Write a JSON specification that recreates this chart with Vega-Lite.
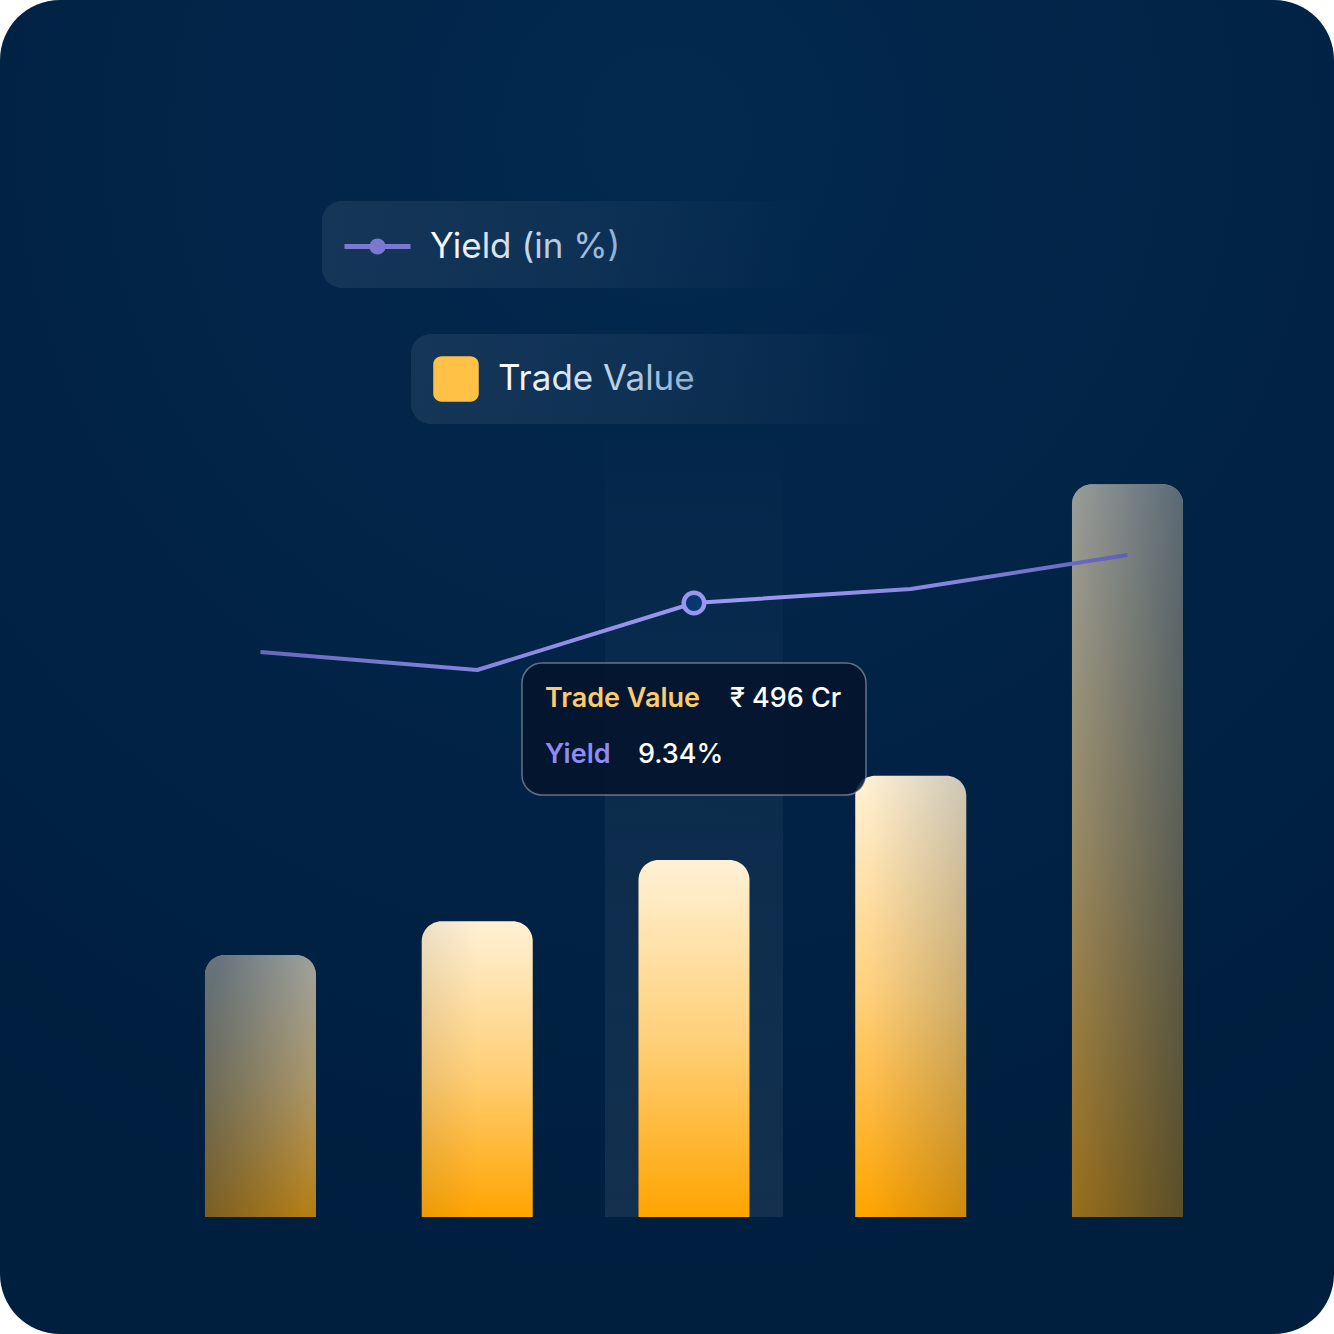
{
  "$schema": "https://vega.github.io/schema/vega-lite/v6.json",
  "width": 1334,
  "height": 1334,
  "padding": 0,
  "autosize": {"type": "none"},
  "background": "#ffffff",
  "view": {
    "stroke": null,
    "cornerRadius": 60,
    "fill": {
      "gradient": "radial",
      "x1": 0.5, "y1": 0.1, "r1": 0,
      "x2": 0.5, "y2": 0.1, "r2": 0.9,
      "stops": [
        {"offset": 0, "color": "#03294f"},
        {"offset": 0.6, "color": "#012244"},
        {"offset": 1, "color": "#001e3e"}
      ]
    }
  },
  "data": {
    "values": [
      {"period": "P1", "trade": 364, "yield": 8.85, "active": false},
      {"period": "P2", "trade": 411, "yield": 8.67, "active": false},
      {"period": "P3", "trade": 496, "yield": 9.34, "active": true},
      {"period": "P4", "trade": 613, "yield": 9.48, "active": false},
      {"period": "P5", "trade": 1018, "yield": 9.82, "active": false}
    ]
  },
  "transform": [
    {"calculate": "'₹ ' + datum.trade + ' Cr'", "as": "tradeLabel"},
    {"calculate": "format(datum.yield, '.2f') + '%'", "as": "yieldLabel"}
  ],
  "encoding": {
    "x": {
      "field": "period",
      "type": "nominal",
      "axis": null,
      "scale": {"type": "band", "paddingInner": 0.4879, "paddingOuter": 0.8212, "align": 0.5758}
    }
  },
  "layer": [
    {
      "transform": [{"filter": "datum.active"}],
      "mark": {
        "type": "bar",
        "width": 178,
        "fill": {
          "gradient": "linear", "x1": 0, "y1": 0, "x2": 0, "y2": 1,
          "stops": [
            {"offset": 0, "color": "rgba(255,255,255,0)"},
            {"offset": 0.45, "color": "rgba(255,255,255,0.045)"},
            {"offset": 1, "color": "rgba(255,255,255,0.075)"}
          ]
        }
      },
      "encoding": {
        "y": {"datum": 1107, "type": "quantitative", "axis": null, "scale": {"domain": [-162.56, 1690.85], "nice": false, "zero": false}},
        "y2": {"datum": 0}
      }
    },
    {
      "mark": {
        "type": "bar",
        "cornerRadiusTopLeft": 20,
        "cornerRadiusTopRight": 20,
        "fill": {
          "gradient": "linear", "x1": 0, "y1": 0, "x2": 0, "y2": 1,
          "stops": [
            {"offset": 0, "color": "#fff1d6"},
            {"offset": 0.5, "color": "#ffd07a"},
            {"offset": 1, "color": "#ffa400"}
          ]
        }
      },
      "encoding": {
        "y": {"field": "trade", "type": "quantitative", "axis": null, "scale": {"domain": [-162.56, 1690.85], "nice": false, "zero": false}},
        "y2": {"datum": 0}
      }
    },
    {
      "mark": {"type": "bar", "cornerRadiusTopLeft": 20, "cornerRadiusTopRight": 20},
      "encoding": {
        "y": {"field": "trade", "type": "quantitative", "axis": null, "scale": {"domain": [-162.56, 1690.85], "nice": false, "zero": false}},
        "y2": {"datum": 0},
        "fill": {
          "condition": [
            {"test": "datum.period == 'P1'", "value": {
              "gradient": "linear", "x1": 0, "y1": 0.3, "x2": 1, "y2": 0.7,
              "stops": [{"offset": 0, "color": "rgba(0,32,64,0.6)"}, {"offset": 1, "color": "rgba(0,32,64,0.3)"}]}},
            {"test": "datum.period == 'P2'", "value": {
              "gradient": "linear", "x1": 0, "y1": 0, "x2": 1, "y2": 0,
              "stops": [{"offset": 0, "color": "rgba(0,32,64,0.08)"}, {"offset": 0.5, "color": "rgba(0,32,64,0)"}]}},
            {"test": "datum.period == 'P4'", "value": {
              "gradient": "linear", "x1": 0, "y1": 0, "x2": 1, "y2": 0,
              "stops": [{"offset": 0.1, "color": "rgba(0,32,64,0)"}, {"offset": 1, "color": "rgba(0,32,64,0.2)"}]}},
            {"test": "datum.period == 'P5'", "value": {
              "gradient": "linear", "x1": 0, "y1": 0, "x2": 1, "y2": 0,
              "stops": [{"offset": 0, "color": "rgba(0,32,64,0.4)"}, {"offset": 1, "color": "rgba(0,32,64,0.65)"}]}}
          ],
          "value": "transparent"
        }
      }
    },
    {
      "mark": {
        "type": "line",
        "strokeWidth": 4,
        "strokeJoin": "round",
        "stroke": {
          "gradient": "linear", "x1": 0, "y1": 0, "x2": 1, "y2": 0,
          "stops": [
            {"offset": 0, "color": "#6469bd"},
            {"offset": 0.35, "color": "#928ee8"},
            {"offset": 0.55, "color": "#9e99f3"},
            {"offset": 0.8, "color": "#8783dc"},
            {"offset": 1, "color": "#5a61b4"}
          ]
        }
      },
      "encoding": {
        "y": {"field": "yield", "type": "quantitative", "axis": null, "scale": {"domain": [2.03, 15.37], "nice": false, "zero": false}}
      }
    },
    {
      "transform": [{"filter": "datum.active"}],
      "mark": {"type": "point", "filled": true, "fill": "#073670", "stroke": "#9a96f0", "strokeWidth": 4.5, "size": 420, "opacity": 1},
      "encoding": {
        "y": {"field": "yield", "type": "quantitative", "axis": null, "scale": {"domain": [2.03, 15.37], "nice": false, "zero": false}}
      }
    },
    {
      "transform": [{"filter": "datum.active"}],
      "mark": {"type": "bar", "width": 344, "cornerRadius": 20, "fill": "rgba(4,20,44,0.88)", "stroke": "rgba(255,255,255,0.38)", "strokeWidth": 1.5},
      "encoding": {
        "y": {"datum": 769.7, "type": "quantitative", "axis": null, "scale": {"domain": [-162.56, 1690.85], "nice": false, "zero": false}},
        "y2": {"datum": 586.3}
      }
    },
    {
      "transform": [{"filter": "datum.active"}],
      "mark": {"type": "text", "align": "left", "baseline": "middle", "dx": -149, "font": "Inter", "fontSize": 27, "fontWeight": 600, "fill": "#fdcb6e"},
      "encoding": {
        "y": {"datum": 719.7, "type": "quantitative", "axis": null, "scale": {"domain": [-162.56, 1690.85], "nice": false, "zero": false}},
        "text": {"value": "Trade Value"}
      }
    },
    {
      "transform": [{"filter": "datum.active"}],
      "mark": {"type": "text", "align": "left", "baseline": "middle", "dx": 36, "font": "Inter", "fontSize": 27, "fontWeight": 500, "fill": "#ffffff"},
      "encoding": {
        "y": {"datum": 719.7, "type": "quantitative", "axis": null, "scale": {"domain": [-162.56, 1690.85], "nice": false, "zero": false}},
        "text": {"field": "tradeLabel"}
      }
    },
    {
      "transform": [{"filter": "datum.active"}],
      "mark": {"type": "text", "align": "left", "baseline": "middle", "dx": -149, "font": "Inter", "fontSize": 27, "fontWeight": 600, "fill": "#8f8cf0"},
      "encoding": {
        "y": {"datum": 641.9, "type": "quantitative", "axis": null, "scale": {"domain": [-162.56, 1690.85], "nice": false, "zero": false}},
        "text": {"value": "Yield"}
      }
    },
    {
      "transform": [{"filter": "datum.active"}],
      "mark": {"type": "text", "align": "left", "baseline": "middle", "dx": -56, "font": "Inter", "fontSize": 27, "fontWeight": 500, "fill": "#ffffff"},
      "encoding": {
        "y": {"datum": 641.9, "type": "quantitative", "axis": null, "scale": {"domain": [-162.56, 1690.85], "nice": false, "zero": false}},
        "text": {"field": "yieldLabel"}
      }
    },
    {
      "transform": [{"filter": "false"}],
      "mark": {"type": "square"},
      "encoding": {
        "y": {"field": "yield", "type": "quantitative", "axis": null, "scale": {"domain": [2.03, 15.37], "nice": false, "zero": false}},
        "fill": {
          "datum": "Yield (in %)",
          "type": "nominal",
          "scale": {"range": ["#7b78d4"]},
          "legend": {
            "orient": "none",
            "legendX": 322,
            "legendY": 201,
            "title": "\u00a0",
            "titleOrient": "right",
            "titlePadding": 170,
            "titleFontSize": 10,
            "padding": 23,
            "cornerRadius": 20,
            "symbolType": "M-1.65,0H1.65M0.28,0A0.28,0.28 0 1 1 -0.28,0A0.28,0.28 0 1 1 0.28,0Z",
            "symbolSize": 1600,
            "symbolStrokeWidth": 5,
            "symbolOffset": 10,
            "symbolOpacity": 1,
            "labelOffset": 30,
            "labelFont": "Inter",
            "labelFontSize": 35,
            "labelLimit": 500,
            "labelColor": "#e8eef5",
            "encode": {
              "legend": {"update": {
                "fill": {"value": {"gradient": "linear", "x1": 0, "y1": 0, "x2": 1, "y2": 0,
                  "stops": [{"offset": 0, "color": "rgba(255,255,255,0.075)"}, {"offset": 0.55, "color": "rgba(255,255,255,0.045)"}, {"offset": 1, "color": "rgba(255,255,255,0)"}]}}
              }},
              "symbols": {"update": {"fill": {"value": "#7b78d4"}, "stroke": {"value": "#7b78d4"}, "opacity": {"value": 1}, "strokeWidth": {"value": 5}}},
              "labels": {"update": {"fill": {"value": {"gradient": "linear", "x1": 0, "y1": 0, "x2": 1, "y2": 0,
                "stops": [{"offset": 0, "color": "#ffffff"}, {"offset": 1, "color": "#8fb0d2"}]}}}}
            }
          }
        }
      }
    },
    {
      "transform": [{"filter": "false"}],
      "mark": {"type": "square"},
      "encoding": {
        "y": {"field": "trade", "type": "quantitative", "axis": null, "scale": {"domain": [-162.56, 1690.85], "nice": false, "zero": false}},
        "fill": {
          "datum": "Trade Value",
          "type": "nominal",
          "scale": {"range": ["#ffc247"]},
          "legend": {
            "orient": "none",
            "legendX": 411,
            "legendY": 334,
            "title": "\u00a0",
            "titleOrient": "right",
            "titlePadding": 180,
            "titleFontSize": 10,
            "padding": 22,
            "cornerRadius": 20,
            "symbolType": "M-1,-0.64A0.36,0.36 0 0 1 -0.64,-1H0.64A0.36,0.36 0 0 1 1,-0.64V0.64A0.36,0.36 0 0 1 0.64,1H-0.64A0.36,0.36 0 0 1 -1,0.64Z",
            "symbolSize": 2070,
            "symbolStrokeWidth": 0,
            "symbolOpacity": 1,
            "labelOffset": 19,
            "labelFont": "Inter",
            "labelFontSize": 35,
            "labelLimit": 500,
            "labelColor": "#e8eef5",
            "encode": {
              "legend": {"update": {
                "fill": {"value": {"gradient": "linear", "x1": 0, "y1": 0, "x2": 1, "y2": 0,
                  "stops": [{"offset": 0, "color": "rgba(255,255,255,0.075)"}, {"offset": 0.55, "color": "rgba(255,255,255,0.045)"}, {"offset": 1, "color": "rgba(255,255,255,0)"}]}}
              }},
              "symbols": {"update": {"opacity": {"value": 1}, "strokeWidth": {"value": 0},
                "fill": {"value": {"gradient": "linear", "x1": 0, "y1": 0, "x2": 0, "y2": 1,
                  "stops": [{"offset": 0, "color": "#fff0cf"}, {"offset": 1, "color": "#ffa400"}]}}}},
              "labels": {"update": {"fill": {"value": {"gradient": "linear", "x1": 0, "y1": 0, "x2": 1, "y2": 0,
                "stops": [{"offset": 0, "color": "#ffffff"}, {"offset": 1, "color": "#8fb0d2"}]}}}}
            }
          }
        }
      }
    }
  ],
  "resolve": {"scale": {"y": "independent", "fill": "independent"}, "legend": {"fill": "independent"}}
}
